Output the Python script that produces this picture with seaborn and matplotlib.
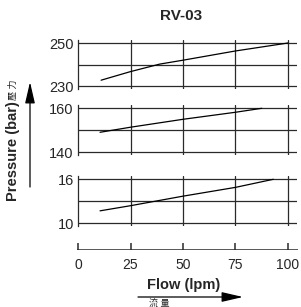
import matplotlib
matplotlib.use("Agg")
import matplotlib.pyplot as plt
import seaborn as sns
import pandas as pd

sns.set_style("white")
plt.rcParams['font.family'] = ['Liberation Sans', 'Noto Sans CJK TC', 'DejaVu Sans']

title = "RV-03"
x_ticks = [0, 25, 50, 75, 100]

flow1 = [11, 25, 39, 50, 75, 100]
p1 = [232.7, 236.7, 240.2, 242.0, 246.3, 250.0]
yt1 = [230, 240, 250]
yl1 = ["230", "", "250"]

flow2 = [10.5, 25, 50, 75, 87.5]
p2 = [149.1, 151.4, 155.0, 158.2, 160.0]
yt2 = [140, 150, 160]
yl2 = ["140", "", "160"]

flow3 = [10.5, 25, 50, 75, 93]
p3 = [11.7, 12.4, 13.7, 14.9, 16.0]
yt3 = [10, 13, 16]
yl3 = ["10", "", "16"]

W, H = 301, 307
fig = plt.figure(figsize=(W / 100, H / 100), dpi=100)

def fx(px):
    return px / W

def fy(py):
    return 1 - py / H

x_left, x_right = 78, 297
xmax = 100 * (x_right - x_left) / 210.0

panels = [
    (flow1, p1, yt1, yl1, 43, 86),
    (flow2, p2, yt2, yl2, 108.3, 152.3),
    (flow3, p3, yt3, yl3, 179.3, 223.3),
]
gc = "#2a2a2a"
for flow, pres, yt, yl, ptop, pbot in panels:
    pad = 3
    top, bot = ptop - pad, pbot + pad
    ax = fig.add_axes([fx(x_left), fy(bot), fx(x_right - x_left), (bot - top) / H])
    per_px = (yt[-1] - yt[0]) / (pbot - ptop)
    ax.set_xlim(0, xmax)
    ax.set_ylim(yt[0] - pad * per_px, yt[-1] + pad * per_px)
    for xv in x_ticks[1:]:
        ax.axvline(xv, color=gc, lw=0.9)
    for yv in yt:
        ax.axhline(yv, color=gc, lw=0.9)
    df = pd.DataFrame({"flow": flow, "p": pres})
    sns.lineplot(data=df, x="flow", y="p", ax=ax, color="black", lw=0.9)
    for s in ["top", "right", "bottom"]:
        ax.spines[s].set_visible(False)
    ax.spines["left"].set_color(gc)
    ax.spines["left"].set_linewidth(0.9)
    ax.set_xticks([])
    ax.set_yticks(yt)
    ax.set_yticklabels(yl, fontsize=10.5)
    ax.tick_params(axis="y", length=0, pad=3)
    ax.set_xlabel("")
    ax.set_ylabel("")

# bottom axis: baseline with short upward ticks (axes spans y 236..250 px)
axb = fig.add_axes([fx(x_left - 1), fy(250), fx(x_right + 1 - (x_left - 1)), 14 / H])
axb.set_facecolor("none")
bx0, bx1 = -100 / 210.0, 100 * (x_right + 1 - x_left) / 210.0
for s in ["top", "right", "left", "bottom"]:
    axb.spines[s].set_visible(False)
axb.hlines(0, bx0, bx1, color=gc, lw=1.1)
axb.vlines(x_ticks, 0, 0.5, color=gc, lw=1.1)
axb.set_xlim(bx0, bx1)
axb.set_ylim(0, 1)
axb.set_yticks([])
axb.set_xticks(x_ticks)
axb.set_xticklabels([str(v) for v in x_ticks], fontsize=10)
axb.tick_params(axis="x", length=0, pad=6)

# title
fig.text(fx(181), fy(16), title, ha="center", va="center", fontsize=11, fontweight="bold")

# y label
fig.text(fx(13), fy(151), "Pressure (bar)", rotation=90, ha="center", va="center",
         fontsize=10.5, fontweight="bold")
fig.text(fx(13), fy(90), "壓 力", rotation=90, ha="center", va="center", fontsize=6.5)
fig.add_artist(matplotlib.patches.FancyArrowPatch(
    (fx(30), fy(187)), (fx(30), fy(82)), transform=fig.transFigure,
    arrowstyle="-|>,head_length=13,head_width=3", color="black", lw=0.9,
    shrinkA=0, shrinkB=0))

# x label
fig.text(fx(184), fy(285), "Flow (lpm)", ha="center", va="center", fontsize=10.5, fontweight="bold")
fig.text(fx(159), fy(304), "流 量", ha="center", va="center", fontsize=6.5)
fig.add_artist(matplotlib.patches.FancyArrowPatch(
    (fx(138), fy(297)), (fx(243), fy(297)), transform=fig.transFigure,
    arrowstyle="-|>,head_length=13,head_width=3", color="black", lw=0.9,
    shrinkA=0, shrinkB=0))

fig.savefig("out.png", dpi=100)
